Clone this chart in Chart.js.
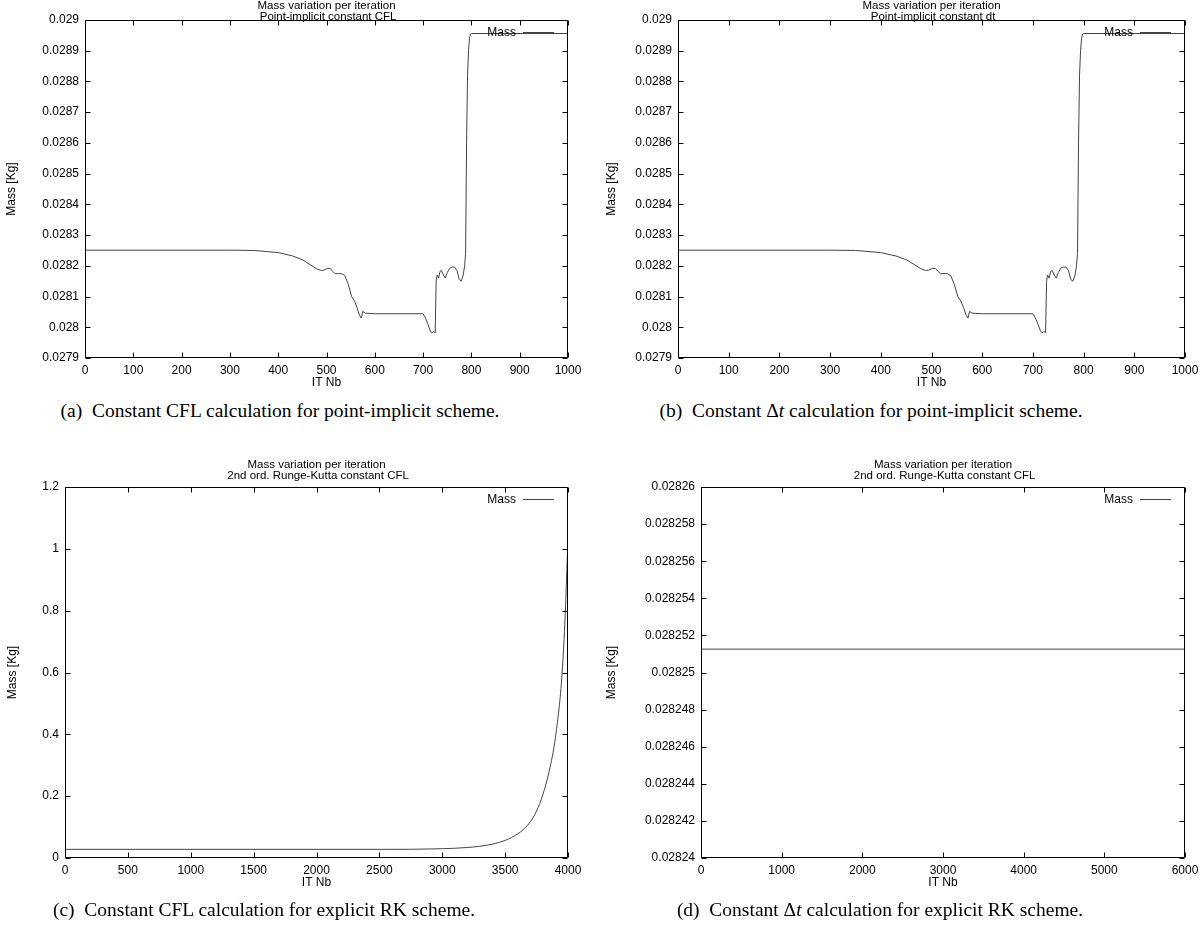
<!DOCTYPE html>
<html>
<head>
<meta charset="utf-8">
<title>Mass variation per iteration</title>
<script src="https://cdn.jsdelivr.net/npm/chart.js@4.4.1/dist/chart.umd.min.js"></script>
<style>
    body { margin: 0; background: #fff; width: 1204px; height: 933px; position: relative; overflow: hidden; }
    canvas { position: absolute; }
    .caption {
        position: absolute;
        font-family: "Liberation Serif", "DejaVu Serif", serif;
        font-size: 19.5px;
        color: #000;
        white-space: nowrap;
        transform: translate(-50%, -50%);
    }
</style>
</head>
<body>

<canvas id="chartA"></canvas>
<canvas id="chartB"></canvas>
<canvas id="chartC"></canvas>
<canvas id="chartD"></canvas>

<div class="caption" id="capA">(a)&ensp;Constant CFL calculation for point-implicit scheme.</div>
<div class="caption" id="capB">(b)&ensp;Constant &Delta;<i>t</i> calculation for point-implicit scheme.</div>
<div class="caption" id="capC">(c)&ensp;Constant CFL calculation for explicit RK scheme.</div>
<div class="caption" id="capD">(d)&ensp;Constant &Delta;<i>t</i> calculation for explicit RK scheme.</div>

<script>
// ======================= Data ======================= //

// Point-implicit runs (a) and (b) - both curves look the same
const implicitIt = [0, 300, 350, 400, 430, 450, 470, 480, 488, 495, 502, 508, 513, 518, 525, 532, 538,
    545, 552, 558, 563, 568, 572, 575, 580, 600, 700, 705, 710, 715, 718, 722, 725, 727, 729, 732,
    735, 738, 742, 746, 750, 755, 760, 765, 770, 775, 779, 783, 786, 788, 790, 792, 794, 796, 798, 800, 1000];
const implicitMassCFL = [0.028251, 0.028251, 0.02825, 0.028243, 0.028232, 0.02822, 0.0282, 0.02819,
    0.028185, 0.028186, 0.028192, 0.028191, 0.028182, 0.028174, 0.028175, 0.028174, 0.028168,
    0.02814, 0.0281, 0.028085, 0.028065, 0.02804, 0.02803, 0.028052, 0.028046, 0.028044, 0.028044,
    0.02803, 0.02801, 0.027988, 0.027982, 0.027986, 0.027982, 0.02815, 0.02817, 0.02816,
    0.028182, 0.028185, 0.02817, 0.02816, 0.028178, 0.028192, 0.028196, 0.028196, 0.028185, 0.028155,
    0.02815, 0.02817, 0.0282, 0.02824, 0.0286, 0.02882, 0.0289, 0.02894, 0.028954, 0.028956, 0.028956];
const implicitMassDt = implicitMassCFL.slice();

// Explicit RK, constant CFL (c)
const rkCflIt = [0, 2500, 3000, 3200, 3300, 3400, 3500, 3600, 3650, 3700, 3750, 3800, 3850, 3900, 3950, 3975, 3990, 4000];
const rkCflMass = [0.028, 0.028, 0.03, 0.034, 0.038, 0.045, 0.057, 0.078, 0.094, 0.117, 0.152, 0.205, 0.28, 0.39, 0.58, 0.76, 0.92, 1.03];

// Explicit RK, constant dt (d)
const rkDtIt = [0, 6000];
const rkDtMass = [0.02825126, 0.02825126];

// Axis ranges: [min, max, step]
const xRangeImplicit = [0, 1000, 100];
const yRangeImplicit = [0.0279, 0.029, 0.0001];
const xRangeRkCfl = [0, 4000, 500];
const yRangeRkCfl = [0, 1.2, 0.2];
const xRangeRkDt = [0, 6000, 1000];
const yRangeRkDt = [0.02824, 0.02826, 0.000002];

const titleImplicitCFL = ['Mass variation per iteration', ' Point-implicit constant CFL'];
const titleImplicitDt = ['Mass variation per iteration', ' Point-implicit constant dt'];
const titleRk = ['Mass variation per iteration', ' 2nd ord. Runge-Kutta constant CFL'];

// ======================= Layout of the four panels ======================= //
// canvas box (x, y, w, h), plot area (l, t, r, b), centres of texts - all in page px
const panels = {
    chartA: { x: 0,   y: 0,   w: 600, h: 400, l: 85,  t: 20,  r: 568,  b: 358, yTitleX: 12,  xTitleY: 383, title1Y: 5.5 },
    chartB: { x: 600, y: 0,   w: 604, h: 400, l: 678, t: 20,  r: 1185, b: 358, yTitleX: 612, xTitleY: 383, title1Y: 5.5 },
    chartC: { x: 0,   y: 440, w: 600, h: 460, l: 65,  t: 487, r: 568,  b: 858, yTitleX: 13,  xTitleY: 883, title1Y: 465 },
    chartD: { x: 600, y: 440, w: 604, h: 460, l: 701, t: 487, r: 1185, b: 858, yTitleX: 612, xTitleY: 883, title1Y: 465 }
};
const captions = {
    capA: { x: 280, y: 411 },
    capB: { x: 871, y: 411 },
    capC: { x: 264, y: 910 },
    capD: { x: 880, y: 910 }
};

const FONT = { family: '"Liberation Sans", Arial, Helvetica, sans-serif', size: 12 };
const TITLE_FONT_SIZE = 11.5;
const TITLE_LH = 11;
const LINE_COLOR = '#444';

// gnuplot style frame: full box, inward ticks on all four sides, title and legend
const gnuplotFrame = {
    id: 'gnuplotFrame',
    afterDraw(chart) {
        const { ctx, chartArea: a, scales: { x, y } } = chart;
        const g = chart.options.panel;
        const tick = 5;
        const L = Math.round(a.left) + 0.5, R = Math.round(a.right) - 0.5;
        const T = Math.round(a.top) + 0.5, B = Math.round(a.bottom) - 0.5;
        ctx.save();
        ctx.strokeStyle = '#000';
        ctx.lineWidth = 1;
        ctx.beginPath();
        ctx.rect(L, T, R - L, B - T);
        x.ticks.forEach(t => {
            const px = Math.round(x.getPixelForValue(t.value)) + 0.5;
            ctx.moveTo(px, B); ctx.lineTo(px, B - tick);
            ctx.moveTo(px, T); ctx.lineTo(px, T + tick);
        });
        y.ticks.forEach(t => {
            const py = Math.round(y.getPixelForValue(t.value)) + 0.5;
            ctx.moveTo(L, py); ctx.lineTo(L + tick, py);
            ctx.moveTo(R, py); ctx.lineTo(R - tick, py);
        });
        ctx.stroke();

        ctx.fillStyle = '#000';
        ctx.textBaseline = 'middle';

        // Two line title, centred over the plot
        ctx.font = TITLE_FONT_SIZE + 'px ' + FONT.family;
        ctx.textAlign = 'center';
        chart.options.titleLines.forEach((line, i) => {
            ctx.fillText(line, (a.left + a.right) / 2, g.title1Y - g.y + i * TITLE_LH);
        });

        // Legend: label then line sample
        const ds = chart.data.datasets[0];
        const ly = Math.round(a.top + 12) + 0.5;
        ctx.font = FONT.size + 'px ' + FONT.family;
        ctx.textAlign = 'right';
        ctx.fillText(ds.label, a.right - 52, ly);
        ctx.strokeStyle = ds.borderColor;
        ctx.beginPath();
        ctx.moveTo(a.right - 45, ly);
        ctx.lineTo(a.right - 14, ly);
        ctx.stroke();
        ctx.restore();
    }
};

function formatY(value) {
    return String(Number(value.toPrecision(6)));
}

function makePanel(id, its, mass, xr, yr, titleLines, smooth) {
    const g = panels[id];
    const canvas = document.getElementById(id);
    canvas.width = g.w;
    canvas.height = g.h;
    canvas.style.left = g.x + 'px';
    canvas.style.top = g.y + 'px';

    return new Chart(canvas, {
        type: 'line',
        data: {
            datasets: [{
                label: 'Mass',
                data: its.map((v, i) => ({ x: v, y: mass[i] })),
                borderColor: LINE_COLOR,
                borderWidth: 1,
                pointRadius: 0,
                tension: 0,
                cubicInterpolationMode: smooth ? 'monotone' : 'default',
                fill: false
            }]
        },
        options: {
            panel: g,
            titleLines: titleLines,
            responsive: false,
            animation: false,
            events: [],
            layout: { padding: { left: 0, top: g.t - g.y, bottom: 0, right: g.x + g.w - g.r } },
            plugins: {
                legend: { display: false },
                tooltip: { enabled: false },
                title: { display: false }
            },
            scales: {
                x: {
                    type: 'linear',
                    min: xr[0],
                    max: xr[1],
                    grid: { drawOnChartArea: false, drawTicks: false },
                    border: { display: false },
                    ticks: {
                        stepSize: xr[2],
                        autoSkip: false,
                        maxRotation: 0,
                        padding: 5,
                        color: '#000',
                        font: FONT,
                        callback: v => String(v)
                    },
                    title: {
                        display: true,
                        text: 'IT Nb',
                        color: '#000',
                        font: FONT,
                        padding: { top: 0, bottom: (g.y + g.h) - g.xTitleY - 7.2 }
                    },
                    afterFit: scale => { scale.height = g.y + g.h - g.b; }
                },
                y: {
                    type: 'linear',
                    min: yr[0],
                    max: yr[1],
                    grid: { drawOnChartArea: false, drawTicks: false },
                    border: { display: false },
                    ticks: {
                        stepSize: yr[2],
                        autoSkip: false,
                        padding: 6,
                        color: '#000',
                        font: FONT,
                        callback: formatY
                    },
                    title: {
                        display: true,
                        text: 'Mass [Kg]',
                        color: '#000',
                        font: FONT,
                        padding: { top: g.yTitleX - g.x - 7.2, bottom: 0 }
                    },
                    afterFit: scale => { scale.width = g.l - g.x; }
                }
            }
        },
        plugins: [gnuplotFrame]
    });
}

document.addEventListener('DOMContentLoaded', function() {
    makePanel('chartA', implicitIt, implicitMassCFL, xRangeImplicit, yRangeImplicit, titleImplicitCFL, false);
    makePanel('chartB', implicitIt, implicitMassDt, xRangeImplicit, yRangeImplicit, titleImplicitDt, false);
    makePanel('chartC', rkCflIt, rkCflMass, xRangeRkCfl, yRangeRkCfl, titleRk, true);
    makePanel('chartD', rkDtIt, rkDtMass, xRangeRkDt, yRangeRkDt, titleRk, false);

    // Place the sub-figure captions
    Object.keys(captions).forEach(id => {
        const el = document.getElementById(id);
        el.style.left = captions[id].x + 'px';
        el.style.top = captions[id].y + 'px';
    });
});
</script>
</body>
</html>
